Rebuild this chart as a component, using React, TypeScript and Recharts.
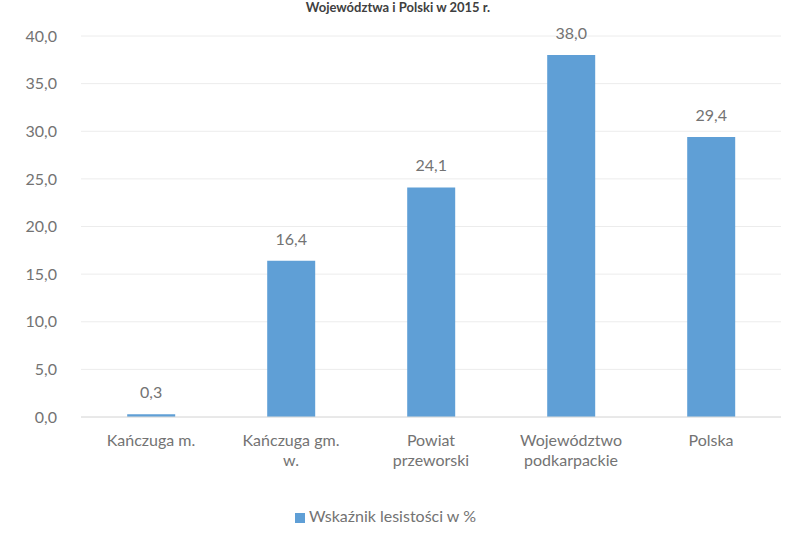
import React from 'react'
import { BarChart, Bar, XAxis, YAxis, CartesianGrid, Legend, LabelList } from 'recharts'

const categories = ['Kańczuga m.', 'Kańczuga gm. w.', 'Powiat przeworski', 'Województwo podkarpackie', 'Polska']
// tick labels broken into lines the way the original wraps them
const tickLines: Record<string, string[]> = {
  'Kańczuga m.': ['Kańczuga m.'],
  'Kańczuga gm. w.': ['Kańczuga gm.', 'w.'],
  'Powiat przeworski': ['Powiat', 'przeworski'],
  'Województwo podkarpackie': ['Województwo', 'podkarpackie'],
  'Polska': ['Polska'],
}
const lesistosc = [0.3, 16.4, 24.1, 38.0, 29.4]
const yTicks = [0, 5, 10, 15, 20, 25, 30, 35, 40]

const seriesName = 'Wskaźnik lesistości w %'
const title = 'Województwa i Polski w 2015 r.'

const FONT = 'Lato, "Open Sans", sans-serif'
const TEXT = '#737373'
const BAR = '#5f9fd6'

const fmt = (v: number) => v.toFixed(1).replace('.', ',')

function WrapTick(props: any) {
  const { x, y, payload } = props
  const lines = tickLines[payload.value] || [payload.value]
  return (
    <text x={x} y={y} textAnchor="middle" fill={TEXT} fontSize={16} fontFamily={FONT}>
      {lines.map((l, i) => (
        <tspan key={i} x={x} dy={i === 0 ? 21 : 20}>{l}</tspan>
      ))}
    </text>
  )
}

export default function App() {
  const data = categories.map((c, i) => ({ name: c, value: lesistosc[i] }))

  return (
    <div style={{ position: 'absolute', left: 0, top: 0, width: 796, height: 547, background: '#fff', overflow: 'hidden' }}>
      <div
        style={{
          position: 'absolute', top: 0, left: 0, width: 796, textAlign: 'center',
          fontFamily: FONT, fontWeight: 700, fontSize: 13, color: '#404040', lineHeight: '14px',
        }}
      >
        {title}
      </div>
      <BarChart
        width={796}
        height={547}
        data={data}
        margin={{ top: 36, right: 15, bottom: 21, left: 0 }}
        barCategoryGap="33%"
      >
        <CartesianGrid vertical={false} stroke="#ececec" />
        <XAxis
          dataKey="name"
          interval={0}
          tick={<WrapTick />}
          tickLine={false}
          axisLine={{ stroke: '#dcdcdc' }}
          height={89}
        />
        <YAxis
          domain={[0, 40]}
          ticks={yTicks}
          tickFormatter={fmt}
          axisLine={false}
          tickLine={false}
          width={81}
          tickMargin={18}
          tick={{ fontSize: 16, fill: TEXT, fontFamily: FONT }}
        />
        <Legend
          verticalAlign="bottom"
          iconType="square"
          iconSize={10}
          wrapperStyle={{ fontFamily: FONT, fontSize: 16, lineHeight: '20px' }}
          formatter={(v: string) => <span style={{ color: TEXT }}>{v}</span>}
        />
        <Bar dataKey="value" name={seriesName} fill={BAR} isAnimationActive={false}>
          <LabelList dataKey="value" position="top" offset={16} formatter={(v: any) => fmt(Number(v))} fill={TEXT} fontSize={16} fontFamily={FONT} />
        </Bar>
      </BarChart>
    </div>
  )
}
